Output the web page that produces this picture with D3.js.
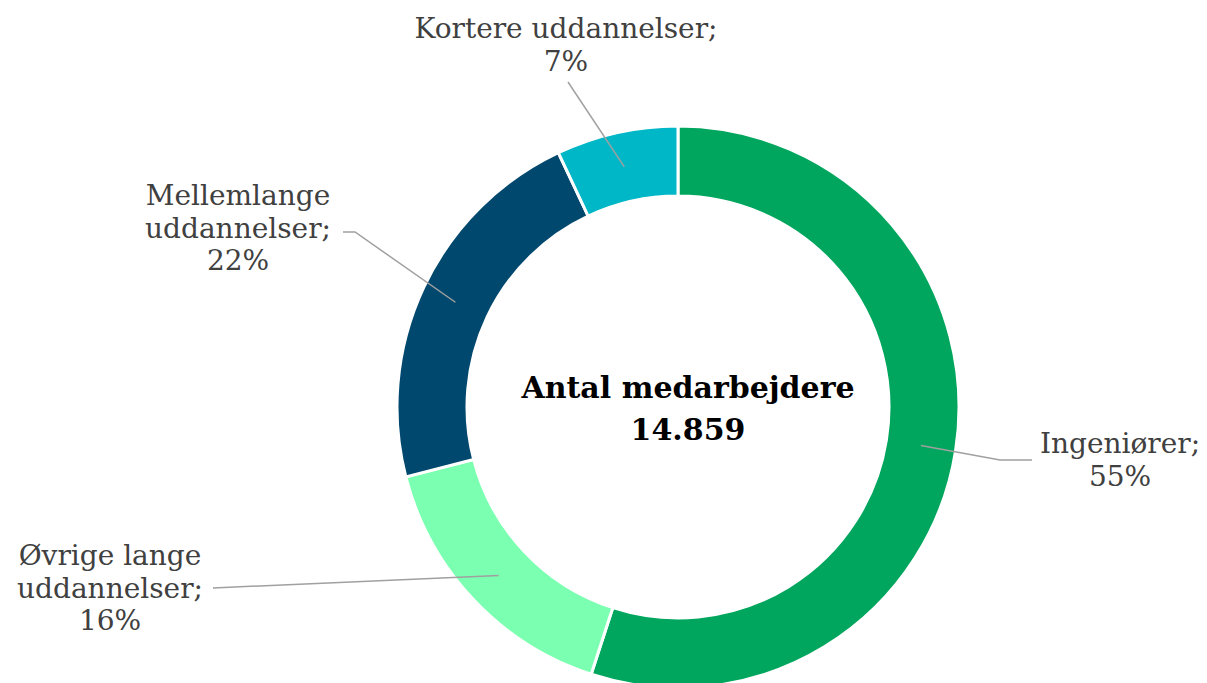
<!DOCTYPE html>
<html>
<head>
<meta charset="utf-8">
<script src="https://cdn.jsdelivr.net/npm/d3@7"></script>
<style>
  html, body { margin: 0; padding: 0; background: #fff; }
  svg { display: block; }
  .lbl { font-family: "DejaVu Serif", Georgia, serif; fill: #404040; }
  .center { font-family: "DejaVu Serif", Georgia, serif; font-weight: bold; fill: #000; }
</style>
</head>
<body>
<svg width="1207" height="683"></svg>
<script>
"use strict";

// data
const categories = ["Ingeniører", "Øvrige lange uddannelser", "Mellemlange uddannelser", "Kortere uddannelser"];
const shares = [55, 16, 22, 7];
const labelLines = [
    ["Ingeniører;", "55%"],
    ["Øvrige lange", "uddannelser;", "16%"],
    ["Mellemlange", "uddannelser;", "22%"],
    ["Kortere uddannelser;", "7%"]
];
const colors = ["#00a65d", "#7bffb0", "#00486e", "#00b7c7"];
const centerTitle = "Antal medarbejdere";
const centerValue = "14.859";

// layout
const cx = 678, cy = 407,
    outerR = 281, innerR = 211;
// label text centre x, first baseline, leader elbow, leader end (relative to chart centre)
const labelLayout = [
    {x: 442, y: 46, elbow: [322, 53], end: [354, 53]},
    {x: -568, y: 158, elbow: [-465, 181], end: [-465, 181]},
    {x: -440, y: -202, elbow: [-323, -175], end: [-335, -175]},
    {x: -112, y: -369, elbow: [-110, -325], end: [-110, -325]}
];

const svg = d3.select("svg"),
    g = svg.append("g").attr("transform", `translate(${cx},${cy})`);

const pie = d3.pie().sort(null).value(d => d)(shares);
const arc = d3.arc().innerRadius(innerR).outerRadius(outerR);
const midArc = d3.arc().innerRadius((innerR + outerR) / 2).outerRadius((innerR + outerR) / 2);

g.selectAll(".slice")
    .data(pie)
    .enter().append("path")
    .attr("class", "slice")
    .attr("d", arc)
    .attr("fill", (d, i) => colors[i])
    .attr("stroke", "#fff")
    .attr("stroke-width", 3);

// leader lines
g.selectAll(".leader")
    .data(pie)
    .enter().append("polyline")
    .attr("class", "leader")
    .attr("fill", "none")
    .attr("stroke", "#a0a0a0")
    .attr("stroke-width", 1.5)
    .attr("points", (d, i) => {
        const c = midArc.centroid(d), l = labelLayout[i];
        return [c, l.elbow, l.end].map(p => p.join(",")).join(" ");
    });

// labels
const lineH = 32.5, fontSize = 28;
const lbl = g.selectAll(".lbl")
    .data(pie)
    .enter().append("text")
    .attr("class", "lbl")
    .attr("text-anchor", "middle")
    .attr("font-size", fontSize);
lbl.each(function (d, i) {
    const l = labelLayout[i];
    d3.select(this).selectAll("tspan")
        .data(labelLines[i])
        .enter().append("tspan")
        .attr("x", l.x)
        .attr("y", (s, k) => l.y + k * lineH)
        .text(s => s);
});

// centre text
g.append("text")
    .attr("class", "center")
    .attr("text-anchor", "middle")
    .attr("font-size", 30)
    .attr("x", 10).attr("y", -9)
    .text(centerTitle);
g.append("text")
    .attr("class", "center")
    .attr("text-anchor", "middle")
    .attr("font-size", 30)
    .attr("x", 10).attr("y", 33)
    .text(centerValue);
</script>
</body>
</html>
